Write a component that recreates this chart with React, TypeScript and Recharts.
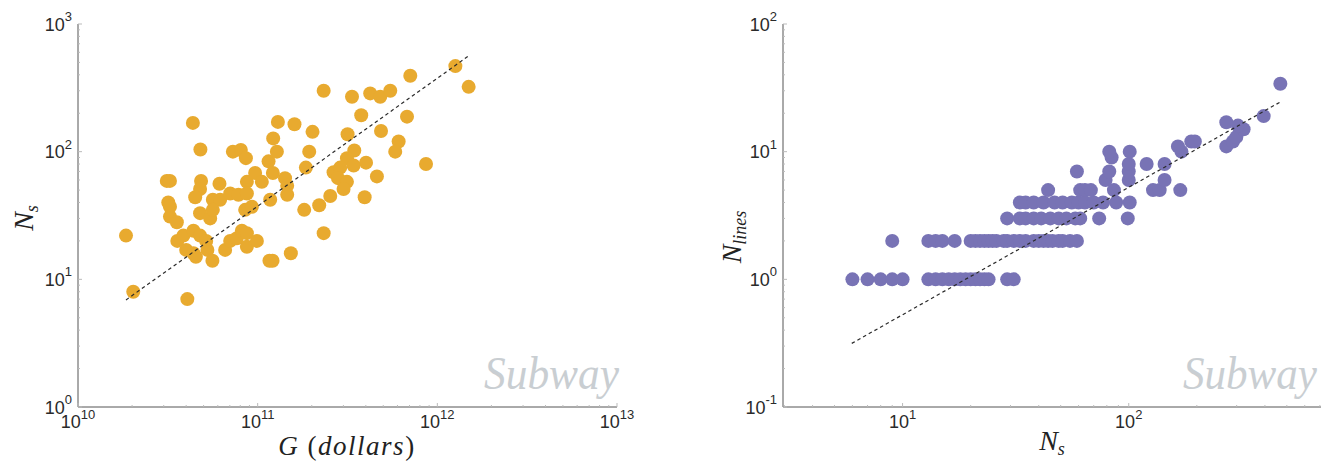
import React from 'react';
import { ScatterChart, Scatter, XAxis, YAxis } from 'recharts';

// ---- Left panel: GDP (dollars) vs number of subway stations ----
const gdpDollars = [
  1.85e10, 2.03e10, 4.06e10, 4.36e10, 4.8e10, 7.28e10, 8.06e10, 8.6e10, 1.22e11, 1.15e11,
  3.12e10, 3.25e10, 4.84e10, 4.78e10, 6.13e10, 8.71e10, 9.68e10, 1.055e11, 3.18e10, 3.25e10,
  4.49e10, 5.63e10, 6.18e10, 7.03e10, 7.82e10, 8.71e10, 1.174e11, 3.25e10, 3.55e10, 4.78e10,
  5.44e10, 5.63e10, 8.52e10, 9.28e10, 3.57e10, 3.86e10, 4.39e10, 4.78e10, 5.17e10, 4.0e10,
  4.39e10, 4.53e10, 5.25e10, 5.6e10, 6.59e10, 7.03e10, 7.66e10, 8.17e10, 8.71e10, 8.71e10,
  9.9e10, 1.163e11, 1.26e12, 1.494e12, 7.07e11, 2.33e11, 3.35e11, 4.23e11, 4.81e11, 5.47e11,
  3.77e11, 6.78e11, 1.296e11, 1.603e11, 2.02e11, 3.165e11, 4.86e11, 6.09e11, 5.83e11, 1.279e11,
  1.936e11, 3.45e11, 3.14e11, 3.42e11, 4.01e11, 8.65e11, 1.855e11, 1.215e11, 1.42e11, 1.46e11,
  1.46e11, 2.645e11, 2.88e11, 2.8e11, 3.14e11, 4.61e11, 1.816e11, 2.2e11, 2.535e11, 3.006e11,
  3.94e11, 2.33e11, 1.21e11, 1.53e11,
];
const gdpStations = [
  22, 8, 7, 168, 104, 100, 103, 89, 127, 84,
  59, 59, 59, 51, 56, 58, 68, 58, 40, 37,
  44, 42, 42, 47, 46, 47, 42, 31, 28, 33,
  30, 35, 35, 37, 20, 22, 24, 22, 20, 17,
  16, 15, 17, 14, 17, 20, 21, 24, 23, 18,
  20, 14, 468, 322, 393, 300, 269, 286, 269, 300,
  193, 188, 171, 164, 143, 137, 145, 120, 100, 100,
  100, 102, 89, 78, 82, 80, 75, 68, 62, 54,
  46, 69, 75, 62, 58, 64, 35, 38, 45, 51,
  44, 23, 14, 16,
];
const fitGdp = [1.85e10, 1.49e12];
const fitGdpStations = [6.9, 561];

// ---- Right panel: number of stations vs number of lines ----
const stationCounts = [
  6, 7, 8, 9, 10, 13, 14, 15, 16, 17, 18, 19, 20, 21, 22, 23, 24, 29, 31,
  9, 13, 14, 15, 17, 20, 21, 22, 23, 24, 25, 26, 28, 29, 31, 33, 35, 38, 40, 42, 44, 46, 49, 51, 55, 59,
  29, 33, 35, 38, 41, 45, 49, 53, 58, 61, 74, 99,
  33, 35, 38, 42, 47, 51, 56, 60, 64, 70, 77, 88, 101,
  44, 61, 64, 68, 86, 128, 137, 169,
  79, 100, 144,
  59, 82, 100,
  100, 120, 144,
  84,
  82, 101, 171,
  165, 270,
  189, 196, 289,
  299, 322, 304, 270, 395, 468,
];
const lineCounts = [
  1, 1, 1, 1, 1, 1, 1, 1, 1, 1, 1, 1, 1, 1, 1, 1, 1, 1, 1,
  2, 2, 2, 2, 2, 2, 2, 2, 2, 2, 2, 2, 2, 2, 2, 2, 2, 2, 2, 2, 2, 2, 2, 2, 2, 2,
  3, 3, 3, 3, 3, 3, 3, 3, 3, 3, 3, 3,
  4, 4, 4, 4, 4, 4, 4, 4, 4, 4, 4, 4, 4,
  5, 5, 5, 5, 5, 5, 5, 5,
  6, 6, 6,
  7, 7, 7,
  8, 8, 8,
  9,
  10, 10, 10,
  11, 11,
  12, 12, 12,
  13, 15, 16, 17, 19, 34,
];
const fitStations = [5.96, 464];
const fitLines = [0.315, 24.3];

const leftXDomain = [1e10, 1e13];
const leftYDomain = [1, 1000];
const rightXDomain = [2.96, 708];
const rightYDomain = [0.1, 100];

const ORANGE = '#E8AA2F';
const PURPLE = '#7873B5';
const TICK_FONT = '"Liberation Sans", Arial, sans-serif';
const SERIF = '"Liberation Serif", serif';

const leftData = gdpDollars.map((g, i) => ({ x: g, y: gdpStations[i] }));
const leftFit = fitGdp.map((g, i) => ({ x: g, y: fitGdpStations[i] }));
const rightData = stationCounts.map((s, i) => ({ x: s, y: lineCounts[i] }));
const rightFit = fitStations.map((s, i) => ({ x: s, y: fitLines[i] }));

function logTicks(min: number, max: number): number[] {
  const out: number[] = [];
  for (let e = Math.floor(Math.log10(min)); e <= Math.ceil(Math.log10(max)); e++) {
    for (let m = 1; m < 10; m++) {
      const v = m * Math.pow(10, e);
      if (v >= min * 0.999 && v <= max * 1.001) out.push(v);
    }
  }
  return out;
}

function majorInfo(v: number) {
  const l = Math.log10(v);
  const e = Math.round(l);
  return { major: Math.abs(l - e) < 1e-6, e };
}

const XTick = (props: any) => {
  const { x, y, payload } = props;
  const { major, e } = majorInfo(payload.value);
  return (
    <g>
      <line x1={x} x2={x} y1={y} y2={y - (major ? 4 : 2)} stroke="#bbbbbb" strokeWidth={1} />
      {major && (
        <text x={x} y={y + 21} textAnchor="middle" fontFamily={TICK_FONT} fontSize={18} fill="#2a2a2a">
          <tspan>10</tspan>
          <tspan dy={-9} fontSize={13}>{String(e)}</tspan>
        </text>
      )}
    </g>
  );
};

const YTick = (props: any) => {
  const { x, y, payload } = props;
  const { major, e } = majorInfo(payload.value);
  return (
    <g>
      <line x1={x} x2={x + (major ? 4 : 2)} y1={y} y2={y} stroke="#bbbbbb" strokeWidth={1} />
      {major && (
        <text x={x - 6} y={y + 6.5} textAnchor="end" fontFamily={TICK_FONT} fontSize={18} fill="#2a2a2a">
          <tspan>10</tspan>
          <tspan dy={-9.5} fontSize={13}>{String(e)}</tspan>
        </text>
      )}
    </g>
  );
};

const dot = (color: string) => (props: any) => (
  <circle cx={props.cx} cy={props.cy} r={7} fill={color} />
);
const noDot = () => <g />;

const fitLineStyle = { stroke: '#2a2a2a', strokeWidth: 1.2, strokeDasharray: '3.5 3' };

export default function App() {
  return (
    <div style={{ position: 'absolute', left: 0, top: 0, width: 1333, height: 462, background: '#fff' }}>
      <div style={{ position: 'absolute', left: 0, top: 0 }}>
        <ScatterChart width={640} height={462} margin={{ top: 24, right: 23, left: 0, bottom: 0 }}>
          <XAxis
            dataKey="x"
            type="number"
            scale="log"
            domain={leftXDomain}
            allowDataOverflow
            ticks={logTicks(leftXDomain[0], leftXDomain[1])}
            interval={0}
            tick={<XTick />}
            tickSize={0}
            tickMargin={0}
            tickLine={false}
            axisLine={{ stroke: '#555', strokeWidth: 1 }}
            height={55}
          />
          <YAxis
            dataKey="y"
            type="number"
            scale="log"
            domain={leftYDomain}
            allowDataOverflow
            ticks={logTicks(leftYDomain[0], leftYDomain[1])}
            interval={0}
            tick={<YTick />}
            tickSize={0}
            tickMargin={0}
            tickLine={false}
            axisLine={{ stroke: '#555', strokeWidth: 1 }}
            width={78}
          />
          <Scatter data={leftData} shape={dot(ORANGE)} isAnimationActive={false} />
          <Scatter data={leftFit} shape={noDot} line={fitLineStyle} isAnimationActive={false} />
        </ScatterChart>
      </div>
      <div style={{ position: 'absolute', left: 660, top: 0 }}>
        <ScatterChart width={673} height={462} margin={{ top: 24, right: 12, left: 0, bottom: 0 }}>
          <XAxis
            dataKey="x"
            type="number"
            scale="log"
            domain={rightXDomain}
            allowDataOverflow
            ticks={logTicks(rightXDomain[0], rightXDomain[1])}
            interval={0}
            tick={<XTick />}
            tickSize={0}
            tickMargin={0}
            tickLine={false}
            axisLine={{ stroke: '#555', strokeWidth: 1 }}
            height={55}
          />
          <YAxis
            dataKey="y"
            type="number"
            scale="log"
            domain={rightYDomain}
            allowDataOverflow
            ticks={logTicks(rightYDomain[0], rightYDomain[1])}
            interval={0}
            tick={<YTick />}
            tickSize={0}
            tickMargin={0}
            tickLine={false}
            axisLine={{ stroke: '#555', strokeWidth: 1 }}
            width={123}
          />
          <Scatter data={rightData} shape={dot(PURPLE)} isAnimationActive={false} />
          <Scatter data={rightFit} shape={noDot} line={fitLineStyle} isAnimationActive={false} />
        </ScatterChart>
      </div>
      <svg
        width={1333}
        height={462}
        style={{ position: 'absolute', left: 0, top: 0, pointerEvents: 'none' }}
      >
        <g fontFamily={SERIF} fill="#222">
          <text x={347} y={455} textAnchor="middle" fontSize={27} letterSpacing={1.5}>
            <tspan fontStyle="italic">G</tspan>
            <tspan> (</tspan>
            <tspan fontStyle="italic">dollars</tspan>
            <tspan>)</tspan>
          </text>
          <text
            x={33}
            y={218}
            transform="rotate(-90, 33, 218)"
            textAnchor="middle"
            fontSize={28}
            fontStyle="italic"
          >
            N<tspan fontSize={18} dy={5}>s</tspan>
          </text>
          <text
            x={741}
            y={237}
            transform="rotate(-90, 741, 237)"
            textAnchor="middle"
            fontSize={28}
            fontStyle="italic"
          >
            N<tspan fontSize={18} dy={5}>lines</tspan>
          </text>
          <text x={1052} y={450} textAnchor="middle" fontSize={28} fontStyle="italic">
            N<tspan fontSize={18} dy={5}>s</tspan>
          </text>
        </g>
        <g fontFamily={SERIF} fontStyle="italic" fontSize={47} fill="#c9ced2">
          <text x={619} y={389} textAnchor="end" textLength={135} lengthAdjust="spacingAndGlyphs">Subway</text>
          <text x={1317} y={389} textAnchor="end" textLength={134} lengthAdjust="spacingAndGlyphs">Subway</text>
        </g>
      </svg>
    </div>
  );
}
